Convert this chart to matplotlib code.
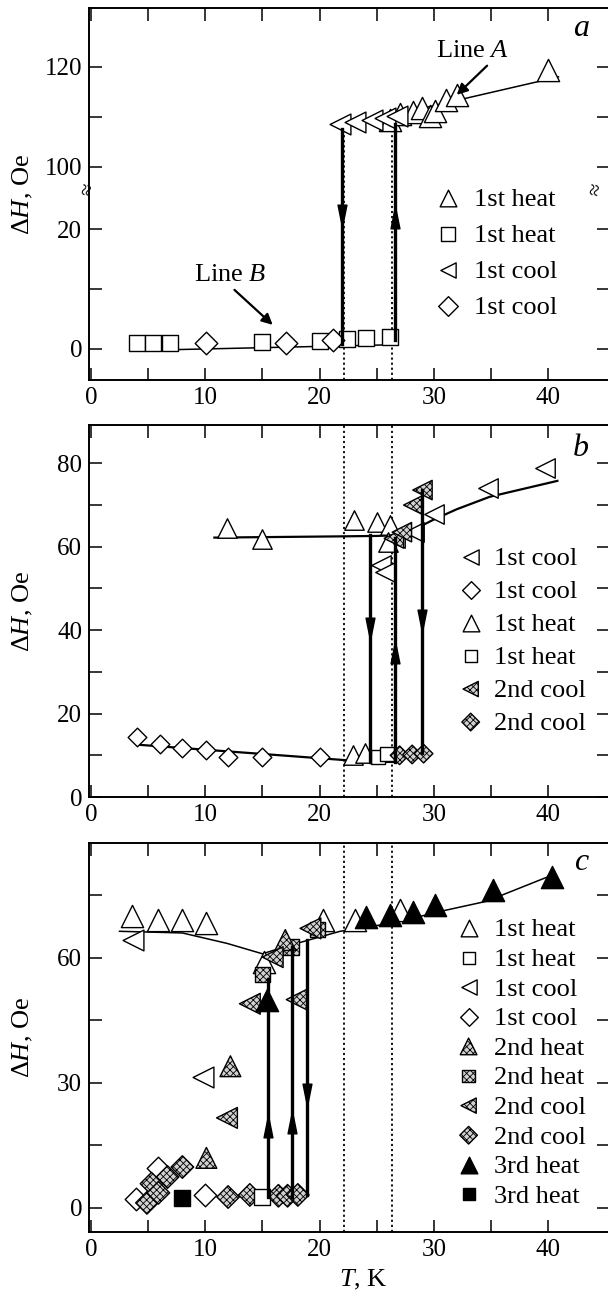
import numpy as np
import matplotlib
matplotlib.use("Agg")
import matplotlib.pyplot as plt

plt.rcParams['font.family'] = ['Liberation Serif', 'DejaVu Serif']
plt.rcParams['mathtext.fontset'] = 'custom'
plt.rcParams['mathtext.rm'] = 'Liberation Serif'
plt.rcParams['mathtext.it'] = 'Liberation Serif:italic'
plt.rcParams['hatch.linewidth'] = 0.6

# =========================
# DATA  (T in K, dH in Oe)
# =========================
# panel a
a_heat_tri_T = [26.2, 27.0, 28.2, 29.0, 29.7, 30.1, 31.1, 32.0, 40.0]
a_heat_tri_H = [109.4, 110.6, 111.0, 111.8, 110.2, 111.2, 113.4, 114.4, 119.4]
a_heat_sq_T = [4.0, 5.4, 6.9, 15.0, 20.0, 22.4, 24.1, 26.2]
a_heat_sq_H = [1.0, 1.0, 1.0, 1.2, 1.3, 1.6, 1.8, 2.0]
a_cool_tri_T = [21.8, 23.1, 24.6, 25.7, 26.8]
a_cool_tri_H = [108.6, 109.0, 109.4, 109.8, 110.2]
a_cool_dia_T = [10.1, 17.1, 21.2]
a_cool_dia_H = [1.0, 1.0, 1.4]
a_lineA_T = [21.6, 40.9]
a_lineA_H = [107.8, 118.0]
a_lineB_T = [3.4, 26.8]
a_lineB_H = [-0.3, 0.7]
# vertical jumps: T, start, end, arrow head position
a_jumps = [(22.0, 107.5, 0.8, 22.7), (26.6, 1.5, 108.5, 21.5)]

# panel b
b_cool_tri_T = [25.4, 25.7, 26.6, 28.3, 30.0, 34.7, 39.7]
b_cool_tri_H = [55.6, 54.0, 62.0, 63.6, 67.8, 74.1, 78.9]
b_cool_dia_T = [4.0, 6.0, 8.0, 10.1, 12.0, 15.0, 20.0]
b_cool_dia_H = [14.4, 12.7, 11.8, 11.3, 9.6, 9.6, 9.6]
b_heat_tri_T = [11.9, 15.0, 23.0, 25.0, 26.2, 26.0, 22.9, 24.0]
b_heat_tri_H = [64.5, 61.9, 66.4, 65.9, 65.2, 61.2, 10.0, 10.5]
b_heat_sq_T = [25.1, 25.9]
b_heat_sq_H = [9.6, 10.2]
b_cool2_tri_T = [26.5, 27.2, 28.2, 29.0]
b_cool2_tri_H = [62.0, 63.5, 70.0, 73.6]
b_cool2_dia_T = [27.0, 28.1, 29.1]
b_cool2_dia_H = [10.0, 10.2, 10.4]
b_upper_T = [10.8, 22.0, 25.0, 27.3, 29.9, 32.0, 34.9, 40.8]
b_upper_H = [62.2, 62.5, 62.6, 62.8, 66.4, 69.0, 72.0, 75.8]
b_lower_T = [4.3, 24.4, 26.6]
b_lower_H = [12.5, 8.4, 8.4]
b_jumps = [(24.4, 62.8, 8.4, 41.0), (26.6, 8.4, 62.0, 34.0), (29.0, 73.6, 10.5, 43.0)]

# panel c
c_heat1_tri_T = [3.6, 5.9, 8.0, 10.1, 15.1, 20.3, 23.1, 27.0]
c_heat1_tri_H = [70.0, 69.0, 69.0, 68.3, 59.0, 69.0, 69.0, 71.4]
c_heat1_sq_T = [15.0]
c_heat1_sq_H = [2.6]
c_cool1_tri_T = [3.7, 9.8]
c_cool1_tri_H = [64.3, 31.4]
c_cool1_dia_T = [3.9, 5.9, 10.0]
c_cool1_dia_H = [2.2, 9.6, 3.1]
c_heat2_tri_T = [10.1, 12.2, 17.0]
c_heat2_tri_H = [12.0, 34.0, 64.3]
c_heat2_sq_T = [15.0, 17.5, 19.8]
c_heat2_sq_H = [56.0, 62.6, 66.8]
c_cool2_tri_T = [11.9, 13.9, 18.0, 15.9, 19.2]
c_cool2_tri_H = [21.6, 49.0, 50.0, 60.2, 67.1]
c_cool2_dia_T = [4.9, 5.3, 5.9, 6.7, 8.0, 12.0, 13.9, 16.4, 17.2, 18.1]
c_cool2_dia_H = [1.2, 5.8, 3.6, 7.4, 9.8, 2.6, 3.1, 2.9, 2.9, 3.1]
c_heat3_tri_T = [15.4, 24.1, 26.2, 28.2, 30.1, 35.2, 40.3]
c_heat3_tri_H = [50.0, 69.8, 70.3, 71.0, 72.7, 76.3, 79.4]
c_heat3_sq_T = [8.0]
c_heat3_sq_H = [2.4]
c_line_T = [2.5, 8.0, 11.9, 15.0, 17.1, 21.8, 26.2, 31.1, 34.6, 39.9]
c_line_H = [66.4, 66.0, 63.5, 61.0, 62.8, 66.4, 68.3, 71.5, 73.6, 79.4]
c_jumps = [(15.5, 2.5, 55.0, 19.0), (17.6, 2.7, 62.6, 20.0), (18.9, 64.3, 3.0, 27.8)]

dotted_T = [22.1, 26.3]

# =========================
# HELPERS
# =========================
HATCH = 'xxxxx'
GRAY = '0.82'
DOWN_HEAD = [(0, -1), (-0.32, 0.6), (0.32, 0.6), (0, -1)]
UP_HEAD = [(0, 1), (-0.32, -0.6), (0.32, -0.6), (0, 1)]


def pts(ax, T, H, marker, size, fill='white', hatch=None):
    ax.scatter(T, H, s=size ** 2, marker=marker, facecolors=fill,
               edgecolors='black', linewidths=1.0, hatch=hatch, zorder=3)


def jump(ax, T, h0, h1, hhead):
    ax.plot([T, T], [h0, h1], color='black', lw=2.4, zorder=4)
    head = DOWN_HEAD if h1 < h0 else UP_HEAD
    ax.plot([T], [hhead], marker=head, markersize=20, color='black', zorder=5)


def legend_rows(ax, entries, xm, xt, y0, dy):
    for i, (marker, size, fill, hatch, label) in enumerate(entries):
        y = y0 - i * dy
        ax.scatter([xm], [y], s=size ** 2, marker=marker, facecolors=fill,
                   edgecolors='black', linewidths=1.0, hatch=hatch,
                   transform=ax.transAxes, clip_on=False, zorder=6)
        ax.text(xt, y - 0.006, label, transform=ax.transAxes, va='center',
                ha='left', fontsize=19)


def style_axes(ax, letter, ly):
    ax.set_xlim(-0.17, 45.32)
    ax.set_xticks(range(0, 45, 5))
    ax.set_xticklabels([str(v) if v % 10 == 0 else '' for v in range(0, 45, 5)])
    ax.tick_params(direction='in', top=True, right=True, length=9, width=1.1,
                   labelsize=18, pad=5)
    for s in ax.spines.values():
        s.set_linewidth(1.4)
    ax.set_ylabel(r'$\Delta H$, Oe', fontsize=19, va='center')
    ax.yaxis.set_label_coords(-0.127, 0.5)
    ax.text(0.946, ly, letter, transform=ax.transAxes, fontsize=23,
            fontstyle='italic', ha='center', va='center')


# broken y scale for panel a
BRK_LO, BRK_HI, LOW_K, EPS = 26.5, 95.4, 1.2, 1e-3


def fwd(y):
    y = np.asarray(y, float)
    top0 = LOW_K * BRK_LO
    top1 = top0 + (BRK_HI - BRK_LO) * EPS
    return np.where(y <= BRK_LO, LOW_K * y,
                    np.where(y < BRK_HI, top0 + (y - BRK_LO) * EPS, top1 + (y - BRK_HI)))


def inv(v):
    v = np.asarray(v, float)
    top0 = LOW_K * BRK_LO
    top1 = top0 + (BRK_HI - BRK_LO) * EPS
    return np.where(v <= top0, v / LOW_K,
                    np.where(v < top1, BRK_LO + (v - top0) / EPS, BRK_HI + (v - top1)))


fig = plt.figure(figsize=(6.08, 12.97), dpi=100)
W = (609 - 89) / 608
ax_a = fig.add_axes([89 / 608, 1 - 380 / 1297, W, 372 / 1297])
ax_b = fig.add_axes([89 / 608, 1 - 797 / 1297, W, 372 / 1297])
ax_c = fig.add_axes([89 / 608, 1 - 1232 / 1297, W, 389 / 1297])

DOT = dict(color='black', lw=1.3, ls=(0, (1.2, 1.6)), zorder=1)

# =========================
# PANEL a
# =========================
ax = ax_a
ax.set_yscale('function', functions=(fwd, inv))
ax.plot([dotted_T[0]] * 2, [-6, 107.0], **DOT)
ax.plot([dotted_T[1]] * 2, [-6, 112.0], **DOT)
ax.plot(a_lineA_T, a_lineA_H, color='black', lw=1.1, zorder=2)
ax.plot(a_lineB_T, a_lineB_H, color='black', lw=1.1, zorder=2)
for T, h0, h1, hh in a_jumps:
    jump(ax, T, h0, h1, hh)
pts(ax, a_heat_tri_T, a_heat_tri_H, '^', 16)
pts(ax, a_cool_tri_T, a_cool_tri_H, '<', 15)
pts(ax, a_heat_sq_T, a_heat_sq_H, 's', 12)
pts(ax, a_cool_dia_T, a_cool_dia_H, 'D', 11.5)
ax.annotate('Line $A$', xy=(32.0, 114.4), xytext=(33.4, 123.2), ha='center',
            va='center', fontsize=19,
            arrowprops=dict(arrowstyle='-|>', color='black', lw=1.6,
                            mutation_scale=16, relpos=(0.75, 0.0), shrinkA=1, shrinkB=0))
ax.annotate('Line $B$', xy=(15.9, 4.0), xytext=(12.2, 12.3), ha='center',
            va='center', fontsize=19,
            arrowprops=dict(arrowstyle='-|>', color='black', lw=1.6,
                            mutation_scale=16, relpos=(0.5, 0.0), shrinkA=1, shrinkB=0))
ax.set_ylim(-5.2, 131.8)
ax.set_yticks([0, 10, 20, 100, 110, 120])
ax.set_yticklabels(['0', '', '20', '100', '', '120'])
style_axes(ax, 'a', 0.946)
for xb in (0.0, 0.978):
    ax.text(xb, 0.511, '\u2248', transform=ax.transAxes, rotation=78,
            fontsize=16, ha='center', va='center', clip_on=False)
legend_rows(ax, [('^', 12, 'white', None, '1st heat'),
                 ('s', 10, 'white', None, '1st heat'),
                 ('<', 11, 'white', None, '1st cool'),
                 ('D', 10, 'white', None, '1st cool')],
            0.690, 0.740, 0.489, 0.0968)

# =========================
# PANEL b
# =========================
ax = ax_b
for T in dotted_T:
    ax.axvline(T, **DOT)
ax.plot(b_upper_T, b_upper_H, color='black', lw=1.6, zorder=2)
ax.plot(b_lower_T, b_lower_H, color='black', lw=1.6, zorder=2)
for T, h0, h1, hh in b_jumps:
    jump(ax, T, h0, h1, hh)
pts(ax, b_heat_tri_T, b_heat_tri_H, '^', 14)
pts(ax, b_cool_tri_T, b_cool_tri_H, '<', 14)
pts(ax, b_cool_dia_T, b_cool_dia_H, 'D', 9.5)
pts(ax, b_heat_sq_T, b_heat_sq_H, 's', 10)
pts(ax, b_cool2_tri_T, b_cool2_tri_H, '<', 14, GRAY, HATCH)
pts(ax, b_cool2_dia_T, b_cool2_dia_H, 'D', 9.5, GRAY, HATCH)
ax.set_ylim(0, 89.2)
ax.set_yticks(range(0, 90, 10))
ax.set_yticklabels([str(v) if v % 20 == 0 else '' for v in range(0, 90, 10)])
style_axes(ax, 'b', 0.938)
legend_rows(ax, [('<', 11, 'white', None, '1st cool'),
                 ('D', 9, 'white', None, '1st cool'),
                 ('^', 12, 'white', None, '1st heat'),
                 ('s', 9, 'white', None, '1st heat'),
                 ('<', 11, GRAY, HATCH, '2nd cool'),
                 ('D', 9, GRAY, HATCH, '2nd cool')],
            0.734, 0.778, 0.645, 0.0887)

# =========================
# PANEL c
# =========================
ax = ax_c
for T in dotted_T:
    ax.axvline(T, **DOT)
ax.plot(c_line_T, c_line_H, color='black', lw=1.1, zorder=2)
for T, h0, h1, hh in c_jumps:
    jump(ax, T, h0, h1, hh)
pts(ax, c_heat1_tri_T, c_heat1_tri_H, '^', 16)
pts(ax, c_cool1_tri_T, c_cool1_tri_H, '<', 15)
pts(ax, c_heat2_sq_T, c_heat2_sq_H, 's', 11, GRAY, HATCH)
pts(ax, c_heat2_tri_T, c_heat2_tri_H, '^', 15, GRAY, HATCH)
pts(ax, c_cool2_tri_T, c_cool2_tri_H, '<', 15, GRAY, HATCH)
pts(ax, c_cool1_dia_T, c_cool1_dia_H, 'D', 11.5)
pts(ax, c_cool2_dia_T, c_cool2_dia_H, 'D', 11.5, GRAY, HATCH)
pts(ax, c_heat1_sq_T, c_heat1_sq_H, 's', 12)
pts(ax, c_heat3_sq_T, c_heat3_sq_H, 's', 12, 'black')
pts(ax, c_heat3_tri_T, c_heat3_tri_H, '^', 16, 'black')
ax.set_ylim(-5.8, 87.6)
ax.set_yticks(range(0, 90, 15))
ax.set_yticklabels([str(v) if v % 30 == 0 else '' for v in range(0, 90, 15)])
style_axes(ax, 'c', 0.951)
ax.set_xlabel('$T$, K', fontsize=19, va='center')
ax.xaxis.set_label_coords((363 - 89) / 520, -0.124)
legend_rows(ax, [('^', 12, 'white', None, '1st heat'),
                 ('s', 9, 'white', None, '1st heat'),
                 ('<', 11, 'white', None, '1st cool'),
                 ('D', 9, 'white', None, '1st cool'),
                 ('^', 12, GRAY, HATCH, '2nd heat'),
                 ('s', 9, GRAY, HATCH, '2nd heat'),
                 ('<', 11, GRAY, HATCH, '2nd cool'),
                 ('D', 9, GRAY, HATCH, '2nd cool'),
                 ('^', 12, 'black', None, '3rd heat'),
                 ('s', 9, 'black', None, '3rd heat')],
            0.730, 0.778, 0.7815, 0.0761)

fig.savefig('out.png', dpi=100)
